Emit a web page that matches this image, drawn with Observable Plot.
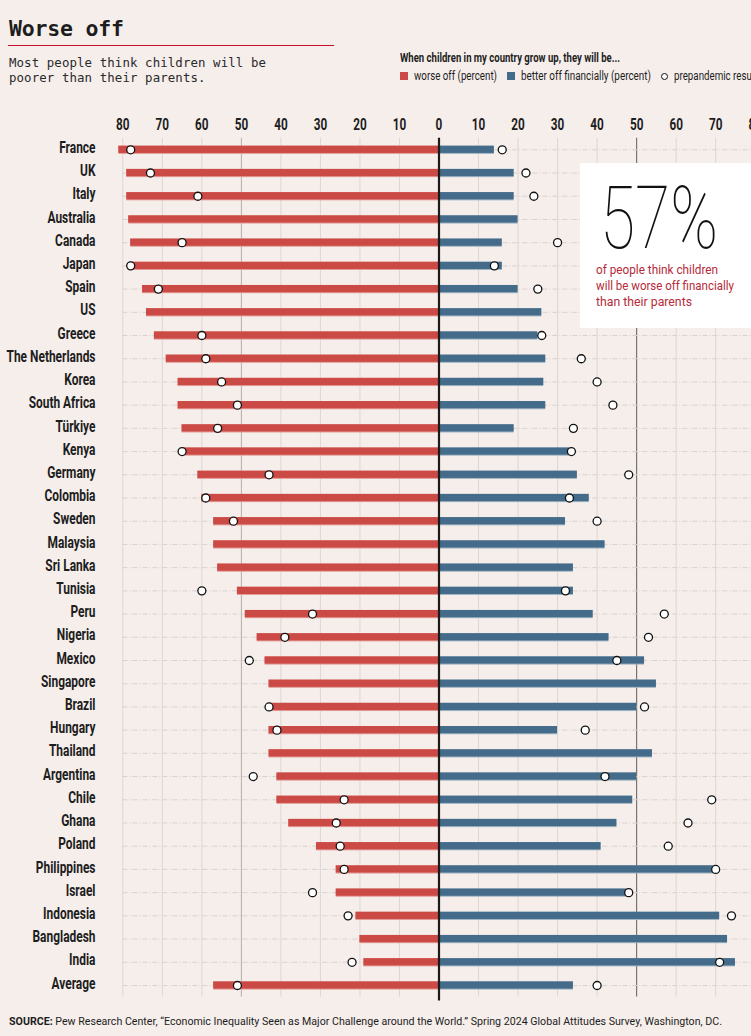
<!DOCTYPE html>
<html>
<head>
<meta charset="utf-8">
<script src="https://cdn.jsdelivr.net/npm/d3@7"></script>
<script src="https://cdn.jsdelivr.net/npm/@observablehq/plot@0.6"></script>
<style>
  html, body { margin: 0; padding: 0; }
  body { width: 751px; height: 1036px; overflow: hidden; position: relative; background: #f5eeeb; }
  .cond { font-family: Roboto, "Noto Sans", sans-serif; white-space: nowrap; position: absolute; transform-origin: left top; display: inline-block; }
  #title { position: absolute; left: 9px; top: 16px; font-family: "DejaVu Sans Mono", "Liberation Mono", monospace; font-weight: bold; font-size: 21.5px; color: #1d1d1d; letter-spacing: -0.2px; }
  #rule { position: absolute; left: 8px; top: 45px; width: 326px; height: 1.3px; background: #c8102e; }
  #subtitle { position: absolute; left: 9px; top: 55px; font-family: "DejaVu Sans Mono", "Liberation Mono", monospace; font-size: 12.4px; line-height: 15px; color: #2a2a2a; letter-spacing: 0.1px; }
  .sw { position: absolute; width: 8px; height: 8px; top: 72px; }
  .circ { position: absolute; width: 5px; height: 5px; top: 72.5px; border: 1.3px solid #111; border-radius: 50%; background: #fff; }
  #chart { position: absolute; left: 0; top: 100px; }
  #box { position: absolute; left: 580px; top: 163px; width: 180px; height: 165px; background: #ffffff; }
  #big { position: absolute; left: 20px; top: 13px; font-family: Roboto, "Liberation Sans", sans-serif; font-weight: 100; font-size: 88px; line-height: 84px; color: #111; transform-origin: left top; white-space: nowrap; }
  .note { font-size: 13px; color: #b52b3a; }
</style>
</head>
<body>
<div id="title">Worse off</div>
<div id="rule"></div>
<div id="subtitle">Most people think children will be<br>poorer than their parents.</div>

<span class="cond" id="lgHdr" data-w="220" style="left:400px; top:51px; font-size:12px; font-weight:bold; color:#1d1d1d;">When children in my country grow up, they will be...</span>
<span class="sw" style="left:400px; background:#cc4a46"></span>
<span class="cond" id="lg1" data-w="83" style="left:414px; top:69px; font-size:12px; color:#1d1d1d;">worse off (percent)</span>
<span class="sw" style="left:507px; background:#446b89"></span>
<span class="cond" id="lg2" data-w="130" style="left:521px; top:69px; font-size:12px; color:#1d1d1d;">better off financially (percent)</span>
<span class="circ" style="left:661px;"></span>
<span class="cond" id="lg3" data-s="lg1" style="left:674px; top:69px; font-size:12px; color:#1d1d1d;">prepandemic results</span>

<div id="chart"></div>
<div id="box">
  <div id="big">57%</div>
  <span class="cond note" data-w="122" style="left:16px; top:99px;">of people think children</span>
  <span class="cond note" data-w="138" style="left:16px; top:115px;">will be worse off financially</span>
  <span class="cond note" data-w="96" style="left:16px; top:131px;">than their parents</span>
</div>
<span class="cond" id="source" data-w="713" style="left:9px; top:1014px; font-size:11.5px; color:#1d1d1d;"><b>SOURCE:</b> Pew Research Center, “Economic Inequality Seen as Major Challenge around the World.” Spring 2024 Global Attitudes Survey, Washington, DC.</span>

<script>
const countries = ["France","UK","Italy","Australia","Canada","Japan","Spain","US","Greece","The Netherlands","Korea","South Africa","Türkiye","Kenya","Germany","Colombia","Sweden","Malaysia","Sri Lanka","Tunisia","Peru","Nigeria","Mexico","Singapore","Brazil","Hungary","Thailand","Argentina","Chile","Ghana","Poland","Philippines","Israel","Indonesia","Bangladesh","India","Average"];
const worseOff = [81,79,79,78.5,78,78,75,74,72,69,66,66,65,65,61,60,57,57,56,51,49,46,44,43,43,43,43,41,41,38,31,26,26,21,20,19,57];
const betterOff = [14,19,19,20,16,16,20,26,25,27,26.5,27,19,33,35,38,32,42,34,34,39,43,52,55,50,30,54,50,49,45,41,69.5,47.5,71,73,75,34];
const preWorse = [78,73,61,null,65,78,71,null,60,59,55,51,56,65,43,59,52,null,null,60,32,39,48,null,43,41,null,47,24,26,25,24,32,23,null,22,51];
const preBetter = [16,22,24,null,30,14,25,null,26,36,40,44,34,33.5,48,33,40,null,null,32,57,53,45,null,52,37,null,42,69,63,58,70,48,74,null,71,40];
const xTicks = d3.range(-80, 81, 10);

const rows = countries.map((c, i) => ({
  country: c,
  worse: -worseOff[i],
  better: betterOff[i],
  pw: preWorse[i] == null ? NaN : -preWorse[i],
  pb: preBetter[i] == null ? NaN : preBetter[i]
}));

const RED = "#cc4a46", BLUE = "#446b89";

const chart = Plot.plot({
  width: 751,
  height: 910,
  marginTop: 37.7,
  marginBottom: 13.4,
  marginLeft: 122,
  marginRight: 0,
  style: { background: "transparent", fontFamily: "Roboto, sans-serif", overflow: "hidden" },
  x: { domain: [-80, 80], range: [122.3, 754.7] },
  y: { type: "band", domain: countries, padding: 0, round: false, axis: null },
  marks: [
    Plot.ruleX(xTicks.filter(d => d !== 0 && Math.abs(d) !== 50), { stroke: "#ddd6d2", strokeWidth: 1 }),
    Plot.ruleX([-50], { stroke: "#b4aeac", strokeWidth: 1 }),
    Plot.ruleX([50], { stroke: "#6e6969", strokeWidth: 1.1 }),
    Plot.ruleY(rows, { y: "country", x1: -80, x2: 80, stroke: "#d8d1cd", strokeDasharray: "5,2,1,2", strokeWidth: 1 }),
    Plot.barX(rows, { y: "country", x1: 0, x2: "worse", fill: "#e39a95", insetTop: 8, insetBottom: 7 }),
    Plot.barX(rows, { y: "country", x1: 0, x2: "worse", fill: RED, insetTop: 8, insetBottom: 8 }),
    Plot.barX(rows, { y: "country", x1: 0, x2: "better", fill: "#9fb3c2", insetTop: 8, insetBottom: 7 }),
    Plot.barX(rows, { y: "country", x1: 0, x2: "better", fill: BLUE, insetTop: 8, insetBottom: 8 }),
    Plot.ruleX([0], { stroke: "#1b1b1b", strokeWidth: 2.2, insetBottom: -4 }),
    Plot.dot(rows, { x: "pw", y: "country", r: 4, fill: "white", stroke: "#111", strokeWidth: 1.3 }),
    Plot.dot(rows, { x: "pb", y: "country", r: 4, fill: "white", stroke: "#111", strokeWidth: 1.3 }),
    Plot.axisX({ anchor: "top", ticks: xTicks, tickSize: 0, tickPadding: 8, tickFormat: d => Math.abs(d), fontSize: 16, fontWeight: "bold", fill: "#1d1d1d" }),
    Plot.text(rows, { y: "country", text: "country", frameAnchor: "left", dx: -27, dy: -2, textAnchor: "end", fontSize: 16, fontWeight: "bold", fill: "#1d1d1d" })
  ]
});
document.getElementById("chart").appendChild(chart);

// condense SVG text horizontally (mimic the condensed typeface); y untouched
function condense(node, s) {
  const xa = node.getAttribute("x");
  const x = xa == null ? 0 : parseFloat(xa) || 0;
  node.removeAttribute("x");
  const t = node.getAttribute("transform") || "";
  node.setAttribute("transform", `${t} translate(${x},0) scale(${s},1)`);
}
const labelNodes = [...chart.querySelectorAll('g[aria-label="text"] text')];
const ref = labelNodes.find(n => n.textContent === "The Netherlands");
const sLab = ref ? 89 / ref.getComputedTextLength() : 0.75;
labelNodes.forEach(n => condense(n, sLab));
const tickNodes = [...chart.querySelectorAll('g[aria-label="x-axis tick label"] text')];
const t80 = tickNodes[0];
const sTick = t80 ? 13.5 / t80.getComputedTextLength() : 0.8;
tickNodes.forEach(n => condense(n, sTick));

// fit HTML texts to their widths in the reference
const scales = {};
document.querySelectorAll(".cond[data-w]").forEach(el => {
  const w = el.getBoundingClientRect().width;
  const s = +el.dataset.w / w;
  scales[el.id] = s;
  el.style.transform = `scaleX(${s})`;
});
document.querySelectorAll(".cond[data-s]").forEach(el => {
  el.style.transform = `scaleX(${scales[el.dataset.s]})`;
});
const big = document.getElementById("big");
big.style.transform = `scaleX(${118 / big.getBoundingClientRect().width})`;
</script>
</body>
</html>
